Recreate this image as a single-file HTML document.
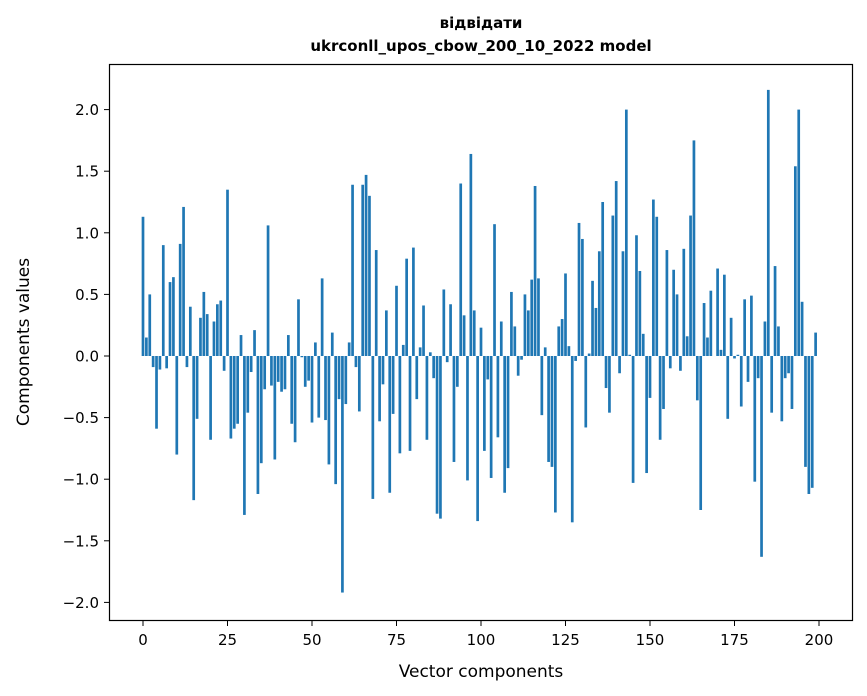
<!DOCTYPE html>
<html><head><meta charset="utf-8"><style>
body{margin:0;background:#fff;}
svg{display:block;font-family:"DejaVu Sans","Liberation Sans",sans-serif;}
</style></head><body>
<svg id="chart" width="867" height="696">
<text x="481" y="28" text-anchor="middle" font-size="15" font-weight="bold">відвідати</text>
<text x="481" y="51" text-anchor="middle" font-size="15" font-weight="bold">ukrconll_upos_cbow_200_10_2022 model</text>
<g id="bars"></g>
<g id="axes"></g>
<rect x="109.5" y="64.5" width="743" height="556" fill="none" stroke="#000" stroke-width="1.2"/>
<text x="481" y="677" text-anchor="middle" font-size="17">Vector components</text>
<text transform="translate(29,342) rotate(-90)" text-anchor="middle" font-size="17">Components values</text>
</svg>
<script>
const values = [1.13,0.15,0.50,-0.09,-0.59,-0.11,0.90,-0.10,0.60,0.64,-0.80,0.91,1.21,-0.09,0.40,-1.17,-0.51,0.31,0.52,0.34,-0.68,0.28,0.42,0.45,-0.12,1.35,-0.67,-0.59,-0.55,0.17,-1.29,-0.46,-0.13,0.21,-1.12,-0.87,-0.27,1.06,-0.24,-0.84,-0.21,-0.29,-0.27,0.17,-0.55,-0.70,0.46,-0.01,-0.25,-0.20,-0.54,0.11,-0.50,0.63,-0.52,-0.88,0.19,-1.04,-0.35,-1.92,-0.39,0.11,1.39,-0.09,-0.45,1.39,1.47,1.30,-1.16,0.86,-0.53,-0.23,0.37,-1.11,-0.47,0.57,-0.79,0.09,0.79,-0.77,0.88,-0.35,0.07,0.41,-0.68,0.03,-0.18,-1.28,-1.32,0.54,-0.05,0.42,-0.86,-0.25,1.40,0.33,-1.01,1.64,0.37,-1.34,0.23,-0.77,-0.19,-0.99,1.07,-0.66,0.28,-1.11,-0.91,0.52,0.24,-0.16,-0.03,0.50,0.37,0.62,1.38,0.63,-0.48,0.07,-0.86,-0.90,-1.27,0.24,0.30,0.67,0.08,-1.35,-0.04,1.08,0.95,-0.58,0.02,0.61,0.39,0.85,1.25,-0.26,-0.46,1.14,1.42,-0.14,0.85,2.00,0.01,-1.03,0.98,0.69,0.18,-0.95,-0.34,1.27,1.13,-0.68,-0.43,0.86,-0.10,0.70,0.50,-0.12,0.87,0.16,1.14,1.75,-0.36,-1.25,0.43,0.15,0.53,0.00,0.71,0.05,0.66,-0.51,0.31,-0.02,0.01,-0.41,0.46,-0.21,0.49,-1.02,-0.18,-1.63,0.28,2.16,-0.46,0.73,0.24,-0.53,-0.18,-0.14,-0.43,1.54,2.00,0.44,-0.90,-1.12,-1.07,0.19];
const xTicks = [0,25,50,75,100,125,150,175,200];
const yTicks = [-2.0,-1.5,-1.0,-0.5,0.0,0.5,1.0,1.5,2.0];
const NS='http://www.w3.org/2000/svg';
function xPos(i){return 143+i*3.38;}
function yPos(v){return 356-v*123.2;}
const bars=document.getElementById('bars');
values.forEach((v,i)=>{
  const r=document.createElementNS(NS,'rect');
  
  
  const y0=yPos(0),y1=yPos(v);
  r.setAttribute('x',xPos(i)-1.35);
  r.setAttribute('width',2.7);
  r.setAttribute('y',Math.min(y0,y1));
  r.setAttribute('height',Math.max(Math.abs(y1-y0),0.01));
  r.setAttribute('fill','#1f77b4');
  bars.appendChild(r);
});
const axes=document.getElementById('axes');
xTicks.forEach(t=>{
  const l=document.createElementNS(NS,'line');
  
  
  l.setAttribute('x1',xPos(t));l.setAttribute('x2',xPos(t));
  l.setAttribute('y1',620.5);l.setAttribute('y2',626);
  l.setAttribute('stroke','#000');
  axes.appendChild(l);
  const tx=document.createElementNS(NS,'text');
  
  
  tx.setAttribute('x',xPos(t));tx.setAttribute('y',645);
  tx.setAttribute('text-anchor','middle');tx.setAttribute('font-size','15');
  tx.textContent=String(t);
  axes.appendChild(tx);
});
yTicks.forEach(t=>{
  const l=document.createElementNS(NS,'line');
  
  
  l.setAttribute('x1',104);l.setAttribute('x2',109.5);
  l.setAttribute('y1',yPos(t));l.setAttribute('y2',yPos(t));
  l.setAttribute('stroke','#000');
  axes.appendChild(l);
  const tx=document.createElementNS(NS,'text');
  
  
  tx.setAttribute('x',99);tx.setAttribute('y',yPos(t)+5.5);
  tx.setAttribute('text-anchor','end');tx.setAttribute('font-size','15');
  tx.textContent=(t<0?'\u2212':'')+Math.abs(t).toFixed(1);
  axes.appendChild(tx);
});
</script>
</body></html>
